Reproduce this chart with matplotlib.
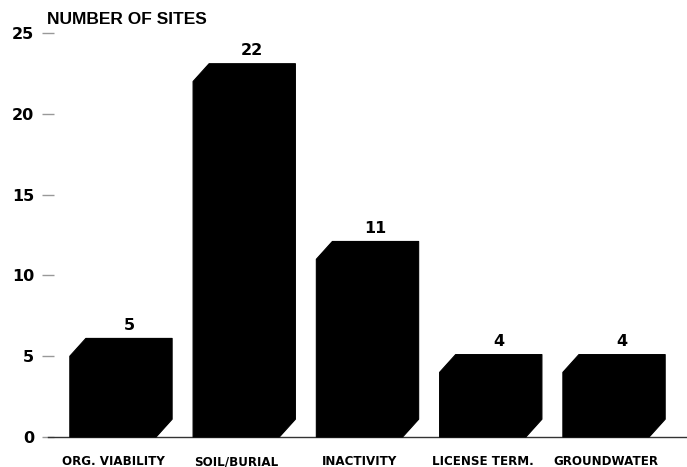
import matplotlib
matplotlib.use("Agg")
import matplotlib.pyplot as plt
from matplotlib.patches import Polygon

plt.rcParams['font.family'] = ['Liberation Sans', 'DejaVu Sans']

# data
categories = ["ORG. VIABILITY", "SOIL/BURIAL", "INACTIVITY", "LICENSE TERM.", "GROUNDWATER"]
sites = [5, 22, 11, 4, 4]
yticks = [0, 5, 10, 15, 20, 25]

# bar shape (front width, depth offsets in data units)
width = 0.70
dx = 0.13
dy = 1.1

fig = plt.figure(figsize=(6.87, 4.67), dpi=100)
ax = fig.add_axes([48 / 687, 30 / 467, 1 - 48 / 687, 404 / 467])

for i, v in enumerate(sites):
    x0 = i - width / 2
    x1 = i + width / 2
    # silhouette of a 3D box: front face + top + side, all black
    pts = [(x0, 0), (x0, v), (x0 + dx, v + dy), (x1 + dx, v + dy),
           (x1 + dx, dy), (x1, 0)]
    ax.add_patch(Polygon(pts, closed=True, facecolor='black', edgecolor='black',
                         linewidth=0.8, joinstyle='round', clip_on=False, zorder=3))
    ax.text(i + dx, v + dy + 0.35, str(v), ha='center', va='bottom',
            fontsize=11.5, fontweight='bold', family='DejaVu Sans')

ax.set_xlim(-0.527, 4.657)
ax.set_ylim(0, 25)
ax.set_xticks(range(len(categories)))
ax.set_xticklabels(categories, fontsize=8.6, fontweight='bold', family='DejaVu Sans')
ax.tick_params(axis='x', length=0, pad=13)
ax.set_yticks(yticks)
ax.set_yticklabels([str(t) for t in yticks], fontsize=11.5, fontweight='bold',
                   family='DejaVu Sans')
ax.tick_params(axis='y', length=8, width=1, color='#999999', direction='inout', pad=6)

for s in ['top', 'right', 'left']:
    ax.spines[s].set_visible(False)
ax.spines['bottom'].set_color('#333333')
ax.spines['bottom'].set_linewidth(1.0)

fig.text(47 / 687, 1 - 19 / 467, "NUMBER OF SITES", ha='left', va='center',
         fontsize=12.5, fontweight='bold')

fig.savefig("out.png", dpi=100, facecolor='white')
